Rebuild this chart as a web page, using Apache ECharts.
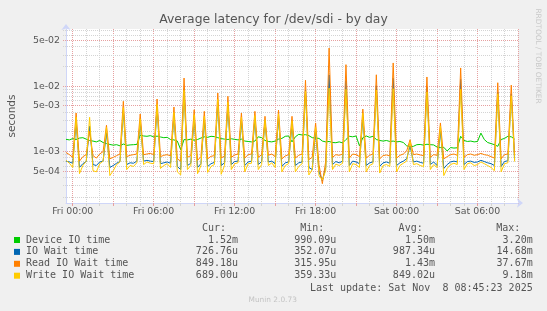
<!DOCTYPE html>
<html>
<head>
<meta charset="utf-8">
<script src="https://cdn.jsdelivr.net/npm/echarts@6/dist/echarts.min.js"></script>
<style>
  html, body { margin: 0; padding: 0; background: #f0f0f0; }
  #chart { width: 547px; height: 311px; }
</style>
</head>
<body>
<div id="chart"></div>
<script>
// 15 minute samples, microseconds, Thu 23:30 -> Sat 08:45
const deviceIO = [
  1510, 1480, 1550, 1500, 1580, 1600, 1520, 1450, 1420, 1380,
  1450, 1350, 1300, 1260, 1230, 1250, 1200, 1280, 1220, 1240,
  1250, 1260, 1750, 1700, 1680, 1720, 1650, 1690, 1640, 1600,
  1620, 1500, 1480, 1420, 1050, 1500, 1480, 1520, 1460, 1500,
  1580, 1650, 1620, 1680, 1660, 1600, 1550, 1520, 1500, 1540,
  1510, 1480, 1520, 1420, 1400, 1380, 1420, 1650, 1600, 1450,
  1400, 1380, 1420, 1520, 1560, 1680, 1700, 1380, 1650, 1800,
  1760, 1780, 1720, 1600, 1580, 1560, 1420, 1380, 1400, 1350,
  1340, 1380, 1330, 1500, 1680, 1650, 1700, 1200, 1600, 1700,
  1620, 1680, 1500, 1450, 1420, 1450, 1400, 1420, 1380, 1400,
  1350, 1200, 1170, 1180, 1250, 1260, 1230, 1270, 1250, 1240,
  1150, 1130, 1140, 1000, 1130, 1110, 1120, 1680, 1450, 1400,
  1420, 1380, 1400, 1880, 1500, 1350, 1300, 1250, 1180, 1500,
  1560, 1680, 1650, 1520
];
const ioWait = [
  700, 680, 650, 2800, 560, 640, 690, 2400, 620, 600,
  680, 700, 1900, 560, 600, 650, 690, 4200, 620, 660,
  650, 700, 2800, 700, 720, 700, 690, 4800, 640, 660,
  680, 650, 3600, 580, 520, 9000, 600, 650, 3200, 560,
  640, 3000, 580, 640, 670, 5500, 600, 660, 5000, 620,
  690, 700, 2900, 600, 680, 700, 3100, 620, 690, 2900,
  680, 700, 640, 3200, 580, 660, 680, 2600, 600, 660,
  680, 8500, 560, 520, 2000, 480, 352, 560, 14680, 620,
  690, 660, 700, 12000, 600, 700, 680, 640, 3300, 600,
  660, 680, 10000, 580, 660, 680, 650, 13000, 600, 660,
  700, 760, 1200, 680, 700, 670, 650, 9500, 620, 680,
  600, 2000, 540, 620, 680, 700, 680, 12500, 620, 690,
  700, 670, 680, 720, 690, 660, 640, 600, 8000, 580,
  690, 710, 7500, 727
];
const readWait = [
  950, 880, 800, 3820, 700, 820, 880, 2000, 850, 780,
  900, 980, 2480, 760, 800, 850, 900, 5770, 820, 860,
  880, 900, 3690, 880, 900, 920, 880, 6250, 820, 860,
  880, 840, 4720, 760, 700, 13100, 800, 850, 4280, 720,
  820, 4050, 760, 830, 850, 7730, 780, 840, 6890, 800,
  870, 900, 3820, 780, 880, 900, 4050, 800, 880, 3400,
  860, 900, 820, 4240, 760, 840, 880, 3400, 780, 860,
  900, 12100, 740, 800, 2690, 620, 316, 700, 37670, 800,
  880, 860, 900, 21000, 780, 900, 880, 820, 4390, 780,
  860, 900, 14700, 760, 850, 870, 840, 22300, 780, 860,
  900, 1000, 1490, 880, 900, 870, 850, 13600, 800, 880,
  860, 2690, 760, 820, 880, 900, 860, 18700, 800, 880,
  900, 860, 880, 920, 880, 860, 820, 780, 11100, 760,
  880, 900, 10200, 849
];
const writeWait = [
  720, 650, 560, 3300, 450, 600, 700, 3280, 500, 480,
  640, 700, 2300, 420, 500, 620, 680, 4600, 520, 600,
  580, 660, 3100, 620, 680, 650, 640, 5200, 540, 600,
  640, 560, 3900, 480, 430, 8500, 520, 600, 3600, 450,
  600, 3400, 470, 580, 620, 6200, 440, 600, 5600, 520,
  640, 660, 3300, 480, 640, 650, 3500, 520, 620, 3000,
  600, 660, 560, 3700, 480, 600, 640, 2900, 480, 580,
  640, 8200, 430, 520, 2300, 420, 360, 500, 9180, 520,
  630, 600, 650, 8800, 480, 640, 620, 560, 3800, 480,
  600, 640, 8600, 460, 600, 620, 580, 9000, 480, 600,
  650, 700, 1400, 620, 640, 600, 580, 8000, 520, 620,
  560, 2400, 420, 540, 620, 650, 620, 8800, 520, 640,
  660, 600, 620, 680, 640, 600, 560, 500, 7500, 480,
  640, 660, 7000, 689
];

const seriesNames = ['Device IO time', 'IO Wait time', 'Read IO Wait time', 'Write IO Wait time'];
const seriesColors = ['#00cc00', '#0066b3', '#ff8000', '#ffcc00'];
const curVals = ['1.52m', '726.76u', '849.18u', '689.00u'];
const minVals = ['990.09u', '352.07u', '315.95u', '359.33u'];
const avgVals = ['1.50m', '987.34u', '1.43m', '849.02u'];
const maxVals = ['3.20m', '14.68m', '37.67m', '9.18m'];
const yTicks = [5e-2, 1e-2, 5e-3, 1e-3, 5e-4];

const Y_MIN = 1.6e-4, Y_MAX = 0.0738;

// category labels every 15 minutes
const dayNames = ['Thu', 'Fri', 'Sat'];
const times = [];
for (let m = -30; m <= 33 * 60; m += 15) {
  const t = m + 1440;
  const d = Math.floor(t / 1440);
  const hh = Math.floor((t % 1440) / 60);
  const mm = t % 60;
  times.push(dayNames[d] + ' ' + String(hh).padStart(2, '0') + ':' + String(mm).padStart(2, '0'));
}
const isHour = (i) => times[i].endsWith(':00');
const isMajor = (i) => isHour(i) && (parseInt(times[i].slice(4, 6)) % 3 === 0);
const isLabel = (i) => isHour(i) && (parseInt(times[i].slice(4, 6)) % 6 === 0);

const toSec = (arr) => arr.map(v => v / 1e6).concat([null]);
const fmtExp = (v) => v.toExponential(0).replace(/e([+-])(\d)$/, 'e$10$2');

// horizontal grid rows: [x, value, isMajor]
const gridRows = [];
for (let e = -4; e <= -2; e++) {
  [2, 3, 4, 6, 7, 8, 9].forEach(k => {
    const v = k * Math.pow(10, e);
    if (v > Y_MIN && v < Y_MAX) gridRows.push([0, v, 0]);
  });
}
yTicks.forEach(v => gridRows.push([0, v, 1]));

const renderGrid = (params, api) => {
  const cs = params.coordSys;
  const major = api.value(2);
  const v = api.value(1);
  const y = Math.round(api.coord([0, v])[1]) + 0.5;
  const children = [{
    type: 'line', silent: true,
    shape: { x1: cs.x - 3, y1: y, x2: cs.x + cs.width, y2: y },
    style: { stroke: major ? '#e6a0a0' : '#d4d4d4', lineWidth: 1, lineDash: [1, 1] }
  }];
  if (major) {
    children.push({
      type: 'text', silent: true, x: cs.x - 6, y: y,
      style: { text: fmtExp(v), align: 'right', verticalAlign: 'middle', fill: '#555', font: '9.4px "DejaVu Sans"' }
    });
  }
  return { type: 'group', children: children };
};

const mono = '10px "DejaVu Sans Mono"';
const graphics = [
  { type: 'text', x: 273.5, y: 20, style: { text: 'Average latency for /dev/sdi - by day', align: 'center', verticalAlign: 'middle', font: '12.4px "DejaVu Sans"', fill: '#555' } },
  { type: 'text', x: 538, y: 56, rotation: -Math.PI / 2, style: { text: 'RRDTOOL / TOBI OETIKER', align: 'center', verticalAlign: 'middle', font: '7.4px "DejaVu Sans"', fill: '#c8c8c8' } },
  { type: 'text', x: 272.7, y: 300, style: { text: 'Munin 2.0.73', align: 'center', verticalAlign: 'middle', font: '7.4px "DejaVu Sans"', fill: '#c4c4c4' } },
  { type: 'text', x: 532.7, y: 288.3, style: { text: 'Last update: Sat Nov  8 08:45:23 2025', align: 'right', verticalAlign: 'middle', font: mono, fill: '#555' } }
];
const headers = ['Cur:', 'Min:', 'Avg:', 'Max:'];
const headerX = [226, 324.3, 422.7, 520.3];
const colX = [238, 336.3, 435, 532.7];
headers.forEach((h, k) => {
  graphics.push({ type: 'text', x: headerX[k], y: 228, style: { text: h, align: 'right', verticalAlign: 'middle', font: mono, fill: '#555' } });
});
seriesNames.forEach((name, r) => {
  const y = 240 + r * 11.9;
  graphics.push({ type: 'rect', shape: { x: 14, y: y - 3, width: 6, height: 6 }, style: { fill: seriesColors[r] } });
  graphics.push({ type: 'text', x: 26, y: y, style: { text: name, align: 'left', verticalAlign: 'middle', font: mono, fill: '#555' } });
  [curVals, minVals, avgVals, maxVals].forEach((vals, k) => {
    graphics.push({ type: 'text', x: colX[k], y: y, style: { text: vals[r], align: 'right', verticalAlign: 'middle', font: mono, fill: '#555' } });
  });
});

const chart = echarts.init(document.getElementById('chart'));
const lineSeries = (name, data, color) => ({
  name: name, type: 'line', data: toSec(data), showSymbol: false, symbol: 'none',
  lineStyle: { width: 1, color: color }, itemStyle: { color: color }, silent: true
});
chart.setOption({
  backgroundColor: '#f0f0f0',
  animation: false,
  textStyle: { fontFamily: 'DejaVu Sans' },
  grid: { left: 66, right: 29, top: 29, bottom: 108, show: true, backgroundColor: '#ffffff', borderWidth: 0, outerBoundsMode: 'none' },
  xAxis: [{
    type: 'category', data: times, boundaryGap: false,
    axisLine: { lineStyle: { color: '#CFD6F8' }, symbol: ['none', 'arrow'], symbolSize: [7, 6], symbolOffset: [0, 5] },
    axisTick: { interval: (i) => isHour(i) && !isMajor(i), length: 3, lineStyle: { color: '#d4d4d4' } },
    axisLabel: { interval: (i) => isLabel(i), margin: 4, color: '#555', fontSize: 9.4, fontFamily: 'DejaVu Sans' },
    splitLine: { show: true, interval: (i) => isHour(i) && !isMajor(i), lineStyle: { color: '#d4d4d4', type: [1, 1] } }
  }, {
    type: 'category', data: times, boundaryGap: false, position: 'bottom',
    axisLine: { show: false },
    axisLabel: { show: false },
    axisTick: { interval: (i) => isMajor(i), length: 3, lineStyle: { color: '#e6a0a0' } },
    splitLine: { show: true, interval: (i) => isMajor(i), lineStyle: { color: '#e6a0a0', type: [1, 1] } }
  }],
  yAxis: {
    type: 'log', min: Y_MIN, max: Y_MAX,
    name: 'seconds', nameLocation: 'middle', nameGap: 48, nameRotate: 90,
    nameTextStyle: { color: '#555', fontSize: 10.5, fontFamily: 'DejaVu Sans' },
    axisLine: { show: true, lineStyle: { color: '#CFD6F8' }, symbol: ['none', 'arrow'], symbolSize: [7, 6], symbolOffset: [0, 5] },
    axisTick: { show: false },
    axisLabel: { show: false },
    splitLine: { show: false }
  },
  graphic: graphics,
  series: [
    { type: 'custom', data: gridRows, renderItem: renderGrid, encode: { x: 0, y: 1 },
      silent: true, clip: false, z: 1 },
    lineSeries(seriesNames[0], deviceIO, seriesColors[0]),
    lineSeries(seriesNames[1], ioWait, seriesColors[1]),
    lineSeries(seriesNames[2], readWait, seriesColors[2]),
    lineSeries(seriesNames[3], writeWait, seriesColors[3])
  ]
});
</script>
</body>
</html>
